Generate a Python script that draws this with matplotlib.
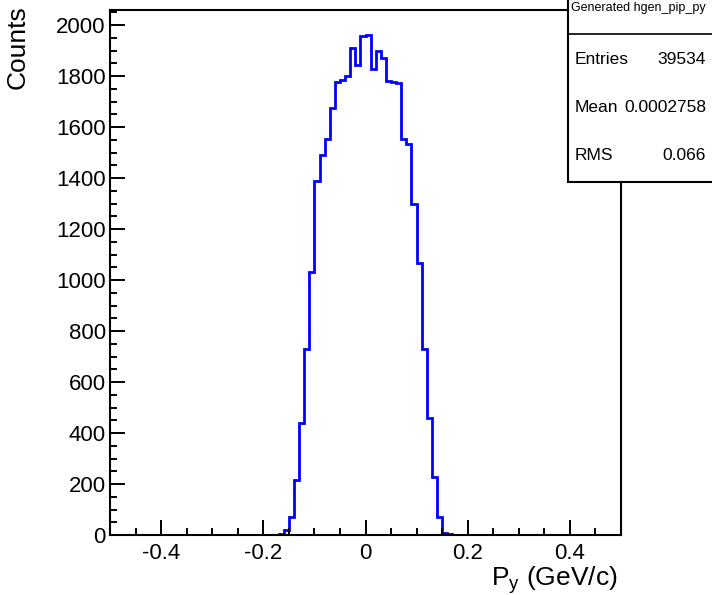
import numpy as np
import matplotlib
matplotlib.use("Agg")
import matplotlib.pyplot as plt
from matplotlib.patches import Rectangle

plt.rcParams['font.family'] = ['Liberation Sans', 'DejaVu Sans']

# histogram: 100 bins from -0.5 to 0.5, non-zero only in [-0.17, 0.17]
x_min, x_max, n_bins = -0.5, 0.5, 100
core_counts = [2, 20, 70, 216, 438, 728, 1032, 1389, 1490, 1555, 1675, 1778,
               1786, 1802, 1911, 1842, 1957,
               1961, 1829, 1898, 1872, 1782, 1778, 1772, 1555, 1533, 1297,
               1065, 729, 457, 229, 70, 8, 2]
counts = [0] * 33 + core_counts + [0] * 33

stats_title = "Generated hgen_pip_py"
stats_rows = [("Entries", "39534"), ("Mean", "0.0002758"), ("RMS", "0.066")]

x_ticks = [-0.4, -0.2, 0, 0.2, 0.4]
x_tick_labels = ["-0.4", "-0.2", "0", "0.2", "0.4"]
y_ticks = list(range(0, 2001, 200))

W, H = 712, 595
fig = plt.figure(figsize=(W / 100, H / 100), dpi=100)
ax = fig.add_axes([110 / W, 1 - 535 / H, 511 / W, 525 / H])

edges = np.linspace(x_min, x_max, n_bins + 1)
ax.stairs(counts, edges, color='blue', lw=2, baseline=None)

ax.set_xlim(x_min, x_max)
ax.set_ylim(0, max(counts) * 1.05)
ax.set_xticks(x_ticks)
ax.set_xticklabels(x_tick_labels)
ax.set_xticks(np.arange(-0.45, 0.5, 0.05), minor=True)
ax.set_yticks(y_ticks)
ax.set_yticks(np.arange(0, 2060, 50), minor=True)

for s in ax.spines.values():
    s.set_linewidth(1.5)
ax.tick_params(which='both', direction='in', top=False, right=False,
               width=1.4, labelsize=16)
ax.tick_params(which='major', length=10.5)
ax.tick_params(which='minor', length=5)
ax.tick_params(axis='y', pad=3)
ax.tick_params(axis='x', pad=6)

fig.text(18 / W, 1 - 5 / H, "Counts", rotation=90, ha='center', va='top', fontsize=19)
fig.text(617 / W, 1 - 586 / H, r"P$_\mathregular{y}$ (GeV/c)", ha='right',
         va='baseline', fontsize=19)

# stats box
bx0, by0 = 568 / W, 1 - 182 / H
fig.patches.append(Rectangle((bx0, by0), 1 - bx0 + 0.01, 1 - by0 + 0.01,
                             transform=fig.transFigure, facecolor='white',
                             edgecolor='black', lw=1.5, zorder=5))
fig.add_artist(plt.Line2D([bx0, 1], [1 - 34 / H, 1 - 34 / H],
                          transform=fig.transFigure, color='black', lw=1.2, zorder=6))
fig.text(638 / W, 1 - 8 / H, stats_title, ha='center', va='center', fontsize=9, zorder=7)
for i, (name, val) in enumerate(stats_rows):
    yy = 1 - (59 + 48.5 * i) / H
    fig.text(575 / W, yy, name, ha='left', va='center', fontsize=12.5, zorder=7)
    fig.text(706 / W, yy, val, ha='right', va='center', fontsize=12.5, zorder=7)

fig.savefig("out.png", dpi=100)
